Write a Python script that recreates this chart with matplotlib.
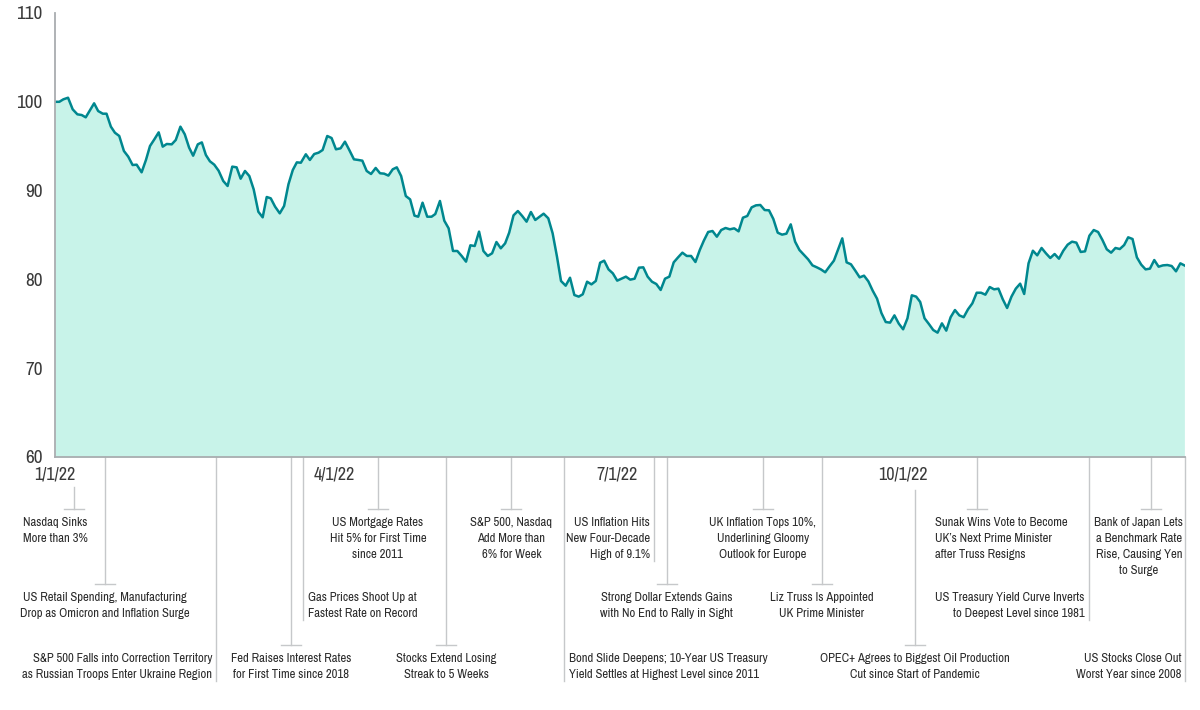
import matplotlib
matplotlib.use('Agg')
import matplotlib.pyplot as plt
from matplotlib import font_manager
from matplotlib.font_manager import FontProperties
from matplotlib.transforms import blended_transform_factory

# index level (1/1/22 = 100), x = days since 1 Jan 2022
days = [0, 1.4, 2.7, 4.2, 5.7, 7.2, 8.6, 9.9, 11.3, 12.6, 13.9, 15.4, 16.6, 18.0,
        19.3, 20.7, 22.2, 23.6, 25.0, 26.3, 27.9, 29.3, 30.6, 32.0, 33.4, 34.7,
        36.0, 37.6, 38.9, 40.4, 41.8, 43.2, 44.5, 46.0, 47.3, 48.6, 49.9, 51.3,
        52.7, 54.2, 55.6, 57.1, 58.5, 59.8, 61.2, 62.6, 64.0, 65.5, 66.9, 68.2,
        69.5, 70.9, 72.4, 73.8, 75.2, 76.6, 77.9, 79.2, 80.8, 82.1, 83.5, 84.9,
        86.2, 87.7, 89.1, 90.5, 92.0, 93.4, 94.8, 96.3, 97.7, 99.0, 100.4, 101.8,
        103.3, 104.7, 106.0, 107.4, 108.8, 110.1,
        111.5, 113.0, 114.4, 115.8, 117.0, 118.4, 119.9, 121.3, 122.5, 124.0,
        125.4, 126.8, 128.2, 129.6, 131.0, 132.4, 133.8, 135.2, 136.6, 138.0,
        139.4, 140.8, 142.2, 143.6, 145.0, 146.3, 147.7, 149.1, 150.5, 151.9,
        153.3, 154.7, 156.1, 157.4, 158.9, 160.3, 161.7, 163.0, 164.5, 165.9,
        167.3, 168.7, 170.0, 171.4, 172.8, 174.2, 175.6, 176.9, 178.3, 179.7,
        181.1, 182.5, 183.9, 185.3, 186.7, 188.1, 189.5, 190.9, 192.3, 193.7,
        195.1, 196.5, 197.9, 199.3, 200.7, 202.1, 203.5, 204.9, 206.3, 207.7,
        209.0, 210.4, 211.8, 213.2, 214.6, 216.0, 217.4, 218.8, 220.2, 221.6,
        223.0, 224.4, 225.8, 227.2, 228.6, 230.0, 231.4, 232.8, 234.2, 235.6,
        237.0, 238.4, 239.8,
        241.3, 242.6, 244.0, 245.4, 246.7, 248.1, 249.5, 250.9, 252.3, 253.6,
        255.0, 256.4, 257.8, 259.2, 260.6, 262.0, 263.4, 264.8, 266.2, 267.6,
        269.0, 270.4, 271.8, 273.2, 274.6, 276.0, 277.4, 278.7, 280.1, 281.5,
        282.9, 284.3, 285.7, 287.1, 288.5, 289.9, 291.3, 292.7, 294.1, 295.5,
        296.9, 298.3, 299.7, 301.1, 302.5, 303.9, 305.3, 306.7, 308.1, 309.5,
        310.9, 312.2, 313.6, 315.0, 316.4, 317.8, 319.2, 320.6, 322.0, 323.4,
        324.8, 326.2, 327.6, 329.0, 330.4, 331.8, 333.2, 334.6, 336.0, 337.4,
        338.8, 340.2, 341.6, 343.0, 344.4, 345.7, 347.1, 348.5, 349.9, 351.3,
        352.7, 354.1, 355.5, 356.9, 358.3, 359.7, 361.1, 362.5, 363.8]

index_values = [100.0, 100.0, 100.28, 100.46, 99.15, 98.59, 98.51, 98.25, 99.08, 99.83,
                98.96, 98.66, 98.66, 97.2, 96.52, 96.15, 94.46, 93.82, 92.88, 92.92,
                92.06, 93.45, 95.02, 95.77, 96.56, 94.95, 95.25, 95.21, 95.7, 97.2,
                96.34, 94.84, 93.93, 95.21, 95.43, 94.01, 93.3, 92.92, 92.24, 91.08,
                90.52, 92.7, 92.62, 91.34, 92.21, 91.64, 90.14, 87.62, 86.99, 89.28,
                89.13, 88.19, 87.44, 88.27, 90.71, 92.32, 93.18, 93.14, 94.09, 93.45,
                94.12, 94.27, 94.57, 96.15, 95.92, 94.65, 94.76, 95.51, 94.57, 93.52,
                93.45, 93.37, 92.21, 91.87, 92.55, 91.95, 91.91, 91.69, 92.4, 92.62,
                91.64, 89.39, 89.01, 87.18, 87.06, 88.64, 87.06, 87.06, 87.36, 88.83,
                86.61, 85.75, 83.2, 83.2, 82.64, 82.0, 83.84, 83.76, 85.38, 83.2,
                82.64, 82.94, 84.21, 83.5, 84.06, 85.26, 87.21, 87.7, 87.14, 86.5,
                87.59, 86.69, 87.06, 87.4, 86.88, 85.19, 82.56, 79.82, 79.29, 80.19,
                78.24, 78.06, 78.32, 79.74, 79.44, 79.82, 81.88, 82.11, 81.13, 80.68,
                79.86, 80.08, 80.31, 79.97, 80.08, 81.32, 81.36, 80.31, 79.74, 79.48,
                78.81, 80.08, 80.31, 81.92, 82.48, 83.01, 82.64, 82.64, 81.96, 83.31,
                84.36, 85.34, 85.45, 84.81, 85.56, 85.79, 85.64, 85.75, 85.41, 86.95,
                87.14, 88.11, 88.34, 88.38, 87.81, 87.78, 86.8, 85.26, 85.04, 85.15,
                86.2, 84.25, 83.31,
                82.75, 82.26, 81.58, 81.36, 81.13, 80.8, 81.47, 82.11, 83.42, 84.62,
                81.92, 81.7, 80.98, 80.23, 80.42, 79.78, 78.73, 77.83, 76.22, 75.2,
                75.13, 75.95, 75.02, 74.38, 75.62, 78.21, 78.06, 77.46, 75.62, 74.98,
                74.3, 74.0, 75.05, 74.23, 75.74, 76.55, 75.95, 75.74, 76.63, 77.3,
                78.5, 78.5, 78.28, 79.14, 78.88, 78.96, 77.76, 76.78, 78.06, 78.96,
                79.52, 78.36, 81.81, 83.23, 82.71, 83.54, 82.94, 82.41, 82.86, 82.33,
                83.23, 83.91, 84.25, 84.14, 83.09, 83.16, 84.92, 85.56, 85.34, 84.44,
                83.39, 83.01, 83.54, 83.42, 83.87, 84.74, 84.55, 82.48, 81.66, 81.13,
                81.21, 82.18, 81.43, 81.58, 81.62, 81.51, 80.91, 81.81, 81.58]

tick_days = [0, 90, 181, 273]
tick_labels = ['1/1/22', '4/1/22', '7/1/22', '10/1/22']
y_ticks = [60, 70, 80, 90, 100, 110]

event_days = [6, 16, 52, 76, 80, 104, 126, 147, 164, 193, 197, 228, 247, 277,
              297, 333, 353, 364]
event_labels = [
    'Nasdaq Sinks\nMore than 3%',
    'US Retail Spending, Manufacturing\nDrop as Omicron and Inflation Surge',
    'S&P 500 Falls into Correction Territory\nas Russian Troops Enter Ukraine Region',
    'Fed Raises Interest Rates\nfor First Time since 2018',
    'Gas Prices Shoot Up at\nFastest Rate on Record',
    'US Mortgage Rates\nHit 5% for First Time\nsince 2011',
    'Stocks Extend Losing\nStreak to 5 Weeks',
    'S&P 500, Nasdaq\nAdd More than\n6% for Week',
    'Bond Slide Deepens; 10-Year US Treasury\nYield Settles at Highest Level since 2011',
    'US Inflation Hits\nNew Four-Decade\nHigh of 9.1%',
    'Strong Dollar Extends Gains\nwith No End to Rally in Sight',
    'UK Inflation Tops 10%,\nUnderlining Gloomy\nOutlook for Europe',
    'Liz Truss Is Appointed\nUK Prime Minister',
    'OPEC+ Agrees to Biggest Oil Production\nCut since Start of Pandemic',
    'Sunak Wins Vote to Become\nUK\u2019s Next Prime Minister\nafter Truss Resigns',
    'US Treasury Yield Curve Inverts\nto Deepest Level since 1981',
    'Bank of Japan Lets\na Benchmark Rate\nRise, Causing Yen\nto Surge',
    'US Stocks Close Out\nWorst Year since 2008',
]

# layout: (row, kind, text shift px, line start px)
layout = [
    (1, 'tick', -18, 487), (2, 'tick', 0, 457), (3, 'right', 0, 457),
    (3, 'tick', 0, 457), (2, 'left', 0, 457), (1, 'tick', 0, 457),
    (3, 'tick', 0, 457), (1, 'tick', 0, 457), (3, 'left', 0, 457),
    (1, 'right', 0, 457), (2, 'tick', 0, 457), (1, 'tick', 0, 457),
    (2, 'tick', 0, 457), (3, 'tick', 0, 490), (1, 'tickleft', -42, 457),
    (2, 'right', 0, 457), (1, 'tick', -12, 457), (3, 'right', 0, 457),
]


# look for a narrow / condensed face, the reference uses a condensed sans
def pick_font():
    best = None
    for f in font_manager.fontManager.ttflist:
        fn = f.fname.lower()
        nm = f.name.lower()
        if f.style != 'normal' or 'bold' in fn or 'italic' in fn or 'light' in fn \
                or 'medium' in fn or 'thin' in fn or 'black' in fn:
            continue
        if 'extracondensed' in fn.replace('-', '') or 'extra' in fn:
            rank = 3
        elif 'narrow' in fn or 'narrow' in nm:
            rank = 0
        elif 'semicondensed' in fn.replace('-', ''):
            rank = 2
        elif 'condensed' in fn or 'condensed' in nm:
            rank = 1
        else:
            continue
        if best is None or rank < best[0]:
            best = (rank, f.fname)
    if best:
        return FontProperties(fname=best[1])
    return FontProperties(family='Liberation Sans')


fp = pick_font()

W, H = 1200, 710
fig = plt.figure(figsize=(W / 100, H / 100), dpi=100)
renderer = fig.canvas.get_renderer()


def size_for(s, width_px):
    t = fig.text(0, 0, s, fontproperties=fp, fontsize=10)
    w = t.get_window_extent(renderer=renderer).width
    t.remove()
    return 10 * width_px / w


note_size = min(size_for('S&P 500 Falls into Correction Territory', 180), 10)
xtick_size = min(size_for('10/1/22', 49), 14.5)
ytick_size = min(size_for('100', 26), 14.5)

ax = fig.add_axes([55 / W, 1 - 457 / H, 1130 / W, 444 / H])

ax.fill_between(days, index_values, 60, color='#c8f3e9', lw=0)
ax.plot(days, index_values, color='#00878f', lw=1.8, solid_joinstyle='round')

ax.set_xlim(0, 364)
ax.set_ylim(60, 110)
ax.set_yticks(y_ticks)
ax.set_xticks(tick_days, tick_labels)
ax.tick_params(axis='both', length=0, labelcolor='#3a3a3a')
ax.tick_params(axis='y', pad=9)
ax.tick_params(axis='x', pad=7)
for lab in ax.get_xticklabels():
    lab.set_fontproperties(fp)
    lab.set_fontsize(xtick_size)
for lab in ax.get_yticklabels():
    lab.set_fontproperties(fp)
    lab.set_fontsize(ytick_size)
for s in ['top', 'right']:
    ax.spines[s].set_visible(False)
for s in ['left', 'bottom']:
    ax.spines[s].set_color('#a9adb0')
    ax.spines[s].set_linewidth(1.3)

tr = blended_transform_factory(ax.transData, fig.transFigure)
px_day = 1130 / 364
gray = '#c6c8ca'
row_tick = {1: 509, 2: 584, 3: 645}


def fy(p):
    return 1 - p / H


def note(x, y, txt, ha):
    ax.text(x, y, txt, transform=tr, ha=ha, va='top', multialignment=ha,
            fontproperties=fp, fontsize=note_size, color='#2b2b2b', linespacing=1.55)


for d, txt, (row, kind, shift, y0) in zip(event_days, event_labels, layout):
    yt = row_tick[row]
    nlines = txt.count('\n') + 1
    text_top = yt + 8
    text_bottom = text_top + 16 * nlines - 4
    if kind.startswith('tick'):
        ax.plot([d, d], [fy(y0), fy(yt)], transform=tr, color=gray, lw=1, clip_on=False)
        ax.plot([d - 10 / px_day, d + 10 / px_day], [fy(yt), fy(yt)], transform=tr,
                color=gray, lw=1, clip_on=False)
        note(d + shift / px_day, fy(text_top), txt, 'left' if kind == 'tickleft' else 'center')
    else:
        ax.plot([d, d], [fy(y0), fy(text_bottom)], transform=tr, color=gray, lw=1,
                clip_on=False)
        if kind == 'right':
            note(d - 4 / px_day, fy(text_top), txt, 'right')
        else:
            note(d + 5 / px_day, fy(text_top), txt, 'left')

fig.savefig('out.png', dpi=100)
